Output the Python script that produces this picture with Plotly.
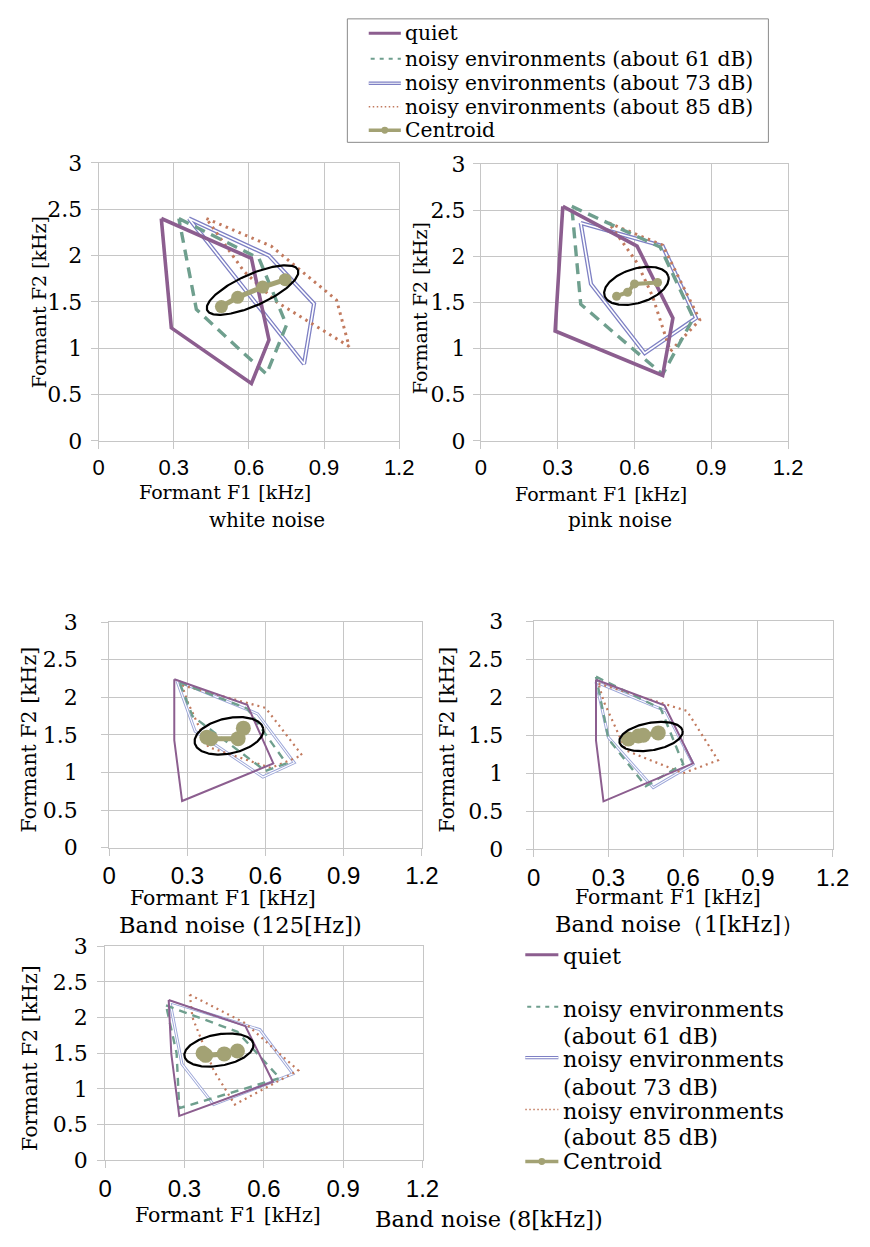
import numpy as np
import plotly.graph_objects as go

W, H = 870, 1247

# ---------------- data (kHz) ----------------
x_ticks = [0, 0.3, 0.6, 0.9, 1.2]
x_tick_text = ["0", "0.3", "0.6", "0.9", "1.2"]
y_ticks = [0, 0.5, 1, 1.5, 2, 2.5, 3]
y_tick_text = ["0", "0.5", "1", "1.5", "2", "2.5", "3"]

series_names = ["quiet", "noisy environments (about 61 dB)", "noisy environments (about 73 dB)",
                "noisy environments (about 85 dB)", "Centroid"]
panel_titles = ["white noise", "pink noise", "Band noise (125[Hz])", "Band noise（1[kHz]）", "Band noise (8[kHz])"]

# white noise
white_quiet_f1 = [0.25, 0.61, 0.68, 0.61, 0.29, 0.25]
white_quiet_f2 = [2.40, 1.97, 1.09, 0.62, 1.22, 2.40]
white_61_f1 = [0.32, 0.64, 0.75, 0.67, 0.39, 0.32]
white_61_f2 = [2.40, 1.97, 1.25, 0.72, 1.42, 2.40]
white_73_f1 = [0.36, 0.68, 0.86, 0.82, 0.36]
white_73_f2 = [2.40, 2.00, 1.48, 0.83, 2.40]
white_85_f1 = [0.43, 0.69, 0.95, 1.00, 0.71, 0.58, 0.43]
white_85_f2 = [2.40, 2.10, 1.52, 1.02, 1.50, 1.83, 2.40]
white_cent_f1 = [0.49, 0.555, 0.655, 0.745]
white_cent_f2 = [1.45, 1.55, 1.66, 1.74]

# pink noise
pink_quiet_f1 = [0.32, 0.61, 0.75, 0.71, 0.29, 0.32]
pink_quiet_f2 = [2.54, 2.11, 1.33, 0.71, 1.19, 2.54]
pink_61_f1 = [0.355, 0.70, 0.83, 0.71, 0.39, 0.355]
pink_61_f2 = [2.54, 2.10, 1.33, 0.72, 1.48, 2.54]
pink_73_f1 = [0.39, 0.71, 0.84, 0.64, 0.43, 0.39]
pink_73_f2 = [2.36, 2.11, 1.33, 0.95, 1.70, 2.36]
pink_85_f1 = [0.50, 0.71, 0.855, 0.74, 0.67, 0.61, 0.50]
pink_85_f2 = [2.36, 2.12, 1.31, 0.97, 1.57, 1.93, 2.36]
pink_cent_f1 = [0.53, 0.573, 0.60, 0.69]
pink_cent_f2 = [1.567, 1.61, 1.70, 1.716]

# band noise 125 Hz
b125_quiet_f1 = [0.25, 0.53, 0.63, 0.28, 0.25, 0.25]
b125_quiet_f2 = [2.24, 1.90, 1.12, 0.62, 1.43, 2.24]
b125_61_f1 = [0.27, 0.53, 0.68, 0.60, 0.32, 0.27]
b125_61_f2 = [2.20, 1.85, 1.12, 1.02, 1.75, 2.20]
b125_73_f1 = [0.26, 0.57, 0.71, 0.59, 0.33, 0.26]
b125_73_f2 = [2.22, 1.78, 1.13, 0.94, 1.55, 2.22]
b125_85_f1 = [0.28, 0.60, 0.74, 0.62, 0.38, 0.30, 0.28]
b125_85_f2 = [2.16, 1.86, 1.23, 1.06, 1.34, 1.95, 2.16]
b125_cent_f1 = [0.375, 0.39, 0.495, 0.515]
b125_cent_f2 = [1.47, 1.45, 1.45, 1.59]

# band noise 1 kHz
b1k_quiet_f1 = [0.25, 0.525, 0.64, 0.28, 0.25, 0.25]
b1k_quiet_f2 = [2.23, 1.895, 1.13, 0.63, 1.43, 2.23]
b1k_61_f1 = [0.25, 0.51, 0.60, 0.45, 0.30, 0.25]
b1k_61_f2 = [2.27, 1.85, 1.12, 0.83, 1.45, 2.27]
b1k_73_f1 = [0.25, 0.53, 0.64, 0.48, 0.30, 0.25]
b1k_73_f2 = [2.20, 1.82, 1.12, 0.81, 1.47, 2.20]
b1k_85_f1 = [0.26, 0.615, 0.74, 0.60, 0.37, 0.28, 0.26]
b1k_85_f2 = [2.18, 1.82, 1.17, 1.00, 1.30, 1.95, 2.18]
b1k_cent_f1 = [0.38, 0.42, 0.44, 0.50]
b1k_cent_f2 = [1.45, 1.49, 1.50, 1.53]

# band noise 8 kHz
b8k_quiet_f1 = [0.24, 0.53, 0.634, 0.28, 0.25, 0.24]
b8k_quiet_f2 = [2.245, 1.88, 1.10, 0.62, 1.49, 2.245]
b8k_61_f1 = [0.23, 0.50, 0.66, 0.28, 0.27, 0.23]
b8k_61_f2 = [2.17, 1.80, 1.15, 0.73, 1.50, 2.17]
b8k_73_f1 = [0.245, 0.585, 0.71, 0.41, 0.29, 0.245]
b8k_73_f2 = [2.22, 1.83, 1.21, 0.78, 1.35, 2.22]
b8k_85_f1 = [0.32, 0.53, 0.73, 0.49, 0.41, 0.33, 0.32]
b8k_85_f2 = [2.32, 1.92, 1.26, 0.78, 1.26, 2.00, 2.32]
b8k_cent_f1 = [0.37, 0.38, 0.45, 0.50]
b8k_cent_f2 = [1.50, 1.47, 1.49, 1.53]

# ---------------- styles ----------------
C_QUIET = "#8C5E8F"
C_61 = "#6F9F8E"
C_73 = "#7E80C4"
C_73_BAND = "#9CA6D8"
C_85 = "#C27A5E"
C_CENT = "#A3A274"
GRID = "#C6C6C6"
SERIF = "DejaVu Serif, Liberation Serif, serif"
SANS = "Liberation Sans, Arial, sans-serif"


def px2x(px):
    return px / W


def py2y(py):
    return 1 - py / H


areas = [
    (94.3, 403.3, 154.0, 437.7),
    (487.3, 803.3, 155.0, 437.7),
    (105.0, 426.7, 622.7, 852.7),
    (541.7, 849.0, 621.7, 854.3),
    (101.0, 427.3, 953.3, 1171.7),
]
y_standoff = [4, 3, 19, 18, 5]

panels = [
    dict(data=(white_quiet_f1, white_quiet_f2, white_61_f1, white_61_f2, white_73_f1, white_73_f2,
               white_85_f1, white_85_f2, white_cent_f1, white_cent_f2),
         ell=(0.6145, 1.628, 51, 16, 23.8), thick=True),
    dict(data=(pink_quiet_f1, pink_quiet_f2, pink_61_f1, pink_61_f2, pink_73_f1, pink_73_f2,
               pink_85_f1, pink_85_f2, pink_cent_f1, pink_cent_f2),
         ell=(0.6075, 1.679, 34.3, 17.5, 17), thick=True),
    dict(data=(b125_quiet_f1, b125_quiet_f2, b125_61_f1, b125_61_f2, b125_73_f1, b125_73_f2,
               b125_85_f1, b125_85_f2, b125_cent_f1, b125_cent_f2),
         ell=(0.46, 1.488, 36, 18, 12), thick=False),
    dict(data=(b1k_quiet_f1, b1k_quiet_f2, b1k_61_f1, b1k_61_f2, b1k_73_f1, b1k_73_f2,
               b1k_85_f1, b1k_85_f2, b1k_cent_f1, b1k_cent_f2),
         ell=(0.471, 1.483, 33, 14, 10), thick=False),
    dict(data=(b8k_quiet_f1, b8k_quiet_f2, b8k_61_f1, b8k_61_f2, b8k_73_f1, b8k_73_f2,
               b8k_85_f1, b8k_85_f2, b8k_cent_f1, b8k_cent_f2),
         ell=(0.43, 1.544, 36, 16, 10), thick=False),
]

fig = go.Figure()
layout = dict(
    width=W, height=H, margin=dict(l=0, r=0, t=0, b=0, pad=0),
    paper_bgcolor="white", plot_bgcolor="white", showlegend=False,
)

for i, (p, ar) in enumerate(zip(panels, areas), start=1):
    xa = "x" if i == 1 else f"x{i}"
    ya = "y" if i == 1 else f"y{i}"
    l, r, t, b = ar
    thick = p["thick"]
    xfs = 22 if thick else 24
    layout["xaxis" if i == 1 else f"xaxis{i}"] = dict(
        domain=[px2x(l), px2x(r)], anchor=ya, range=[0, 1.2], fixedrange=True,
        tickvals=x_ticks, ticktext=x_tick_text, tickfont=dict(family=SANS, size=xfs, color="black"),
        showgrid=True, gridcolor=GRID, gridwidth=1, zeroline=False,
        showline=True, linecolor=GRID, linewidth=1, mirror=True,
        ticks="outside", ticklen=7, tickcolor=GRID, tickwidth=1,
    )
    layout["yaxis" if i == 1 else f"yaxis{i}"] = dict(
        domain=[py2y(b), py2y(t)], anchor=xa, range=[0, 3], fixedrange=True,
        tickvals=y_ticks, ticktext=y_tick_text, tickfont=dict(family=SERIF, size=22, color="black"),
        showgrid=True, gridcolor=GRID, gridwidth=1, zeroline=False,
        showline=True, linecolor=GRID, linewidth=1, mirror=True,
        ticks="outside", ticklen=7, tickcolor=GRID, tickwidth=1,
        ticklabelstandoff=y_standoff[i - 1],
    )
    q1, q2, d1, d2, b1, b2, o1, o2, c1, c2 = p["data"]
    wq = 3.6 if thick else 2.0
    wd = 3.4 if thick else 2.4
    wb = 4.2 if thick else 3.0
    wo = 3.0 if thick else 2.2
    dash_d = "11px,7px" if thick else "8px,6px"
    dash_o = "2.5px,4.5px" if thick else "2px,4px"
    c73 = C_73 if thick else C_73_BAND
    common = dict(xaxis=xa, yaxis=ya, mode="lines", hoverinfo="skip", showlegend=False)
    fig.add_trace(go.Scatter(x=b1, y=b2, line=dict(color=c73, width=wb), name=series_names[2], **common))
    fig.add_trace(go.Scatter(x=b1, y=b2, line=dict(color="white", width=wb * 0.38), name=series_names[2], **common))
    fig.add_trace(go.Scatter(x=o1, y=o2, line=dict(color=C_85, width=wo, dash=dash_o), name=series_names[3], **common))
    fig.add_trace(go.Scatter(x=d1, y=d2, line=dict(color=C_61, width=wd, dash=dash_d), name=series_names[1], **common))
    fig.add_trace(go.Scatter(x=q1, y=q2, line=dict(color=C_QUIET, width=wq), name=series_names[0], **common))
    msz = 13 if i == 1 else (9 if i == 2 else 15)
    fig.add_trace(go.Scatter(x=c1, y=c2, xaxis=xa, yaxis=ya, mode="lines+markers", hoverinfo="skip",
                             showlegend=False, name=series_names[4],
                             line=dict(color=C_CENT, width=5 if i != 2 else 4),
                             marker=dict(color=C_CENT, size=msz)))
    # ellipse annotation, drawn in pixel space and mapped to the panel's data units
    cx, cy, a, bb, ang = p["ell"]
    sx = (r - l) / 1.2
    sy = (b - t) / 3.0
    tt = np.linspace(0, 2 * np.pi, 181)
    th = np.deg2rad(ang)
    u = a * np.cos(tt)
    v = bb * np.sin(tt)
    ex = cx + (u * np.cos(th) - v * np.sin(th)) / sx
    ey = cy + (u * np.sin(th) + v * np.cos(th)) / sy
    fig.add_trace(go.Scatter(x=ex, y=ey, xaxis=xa, yaxis=ya, mode="lines", hoverinfo="skip",
                             showlegend=False, line=dict(color="black", width=2.2)))

annotations = []
shapes = []


def text(s, x, y, size, xanchor="center", angle=0, family=SERIF):
    annotations.append(dict(text=s, x=px2x(x), y=py2y(y), xref="paper", yref="paper",
                            xanchor=xanchor, yanchor="middle", showarrow=False, textangle=angle,
                            font=dict(family=family, size=size, color="black")))


text("Formant F1 [kHz]", 224, 490, 19)
text(panel_titles[0], 267, 518, 20)
text("Formant F2 [kHz]", 33, 296, 19, angle=-90)
text("Formant F1 [kHz]", 611, 492, 19)
text(panel_titles[1], 630, 518, 20)
text("Formant F2 [kHz]", 425, 302, 19, angle=-90)
text("Formant F1 [kHz]", 222, 904, 20.5)
text(panel_titles[2], 240, 932, 22.5)
text("Formant F2 [kHz]", 23, 742, 20.5, angle=-90)
text("Formant F1 [kHz]", 680, 903, 20.5)
text(panel_titles[3], 692, 931, 22.5)
text("Formant F2 [kHz]", 453, 743, 20.5, angle=-90)
text("Formant F1 [kHz]", 227, 1228, 20.5)
text(panel_titles[4], 496, 1232, 22.5)
text("Formant F2 [kHz]", 23, 1067, 20.5, angle=-90)


def hline(x0, x1, y, color, width, dash=None):
    ln = dict(color=color, width=width)
    if dash:
        ln["dash"] = dash
    shapes.append(dict(type="line", xref="paper", yref="paper", x0=px2x(x0), x1=px2x(x1),
                       y0=py2y(y), y1=py2y(y), line=ln))


def sample(kind, x0, x1, y):
    if kind == 0:
        hline(x0, x1, y, C_QUIET, 3)
    elif kind == 1:
        hline(x0 + 2, x1, y, C_61, 2, "4px,5px")
    elif kind == 2:
        hline(x0, x1, y, C_73, 3.4)
        hline(x0, x1, y, "white", 1.2)
    elif kind == 3:
        hline(x0, x1, y, C_85, 1.6, "1.5px,2.5px")
    else:
        hline(x0, x1, y, C_CENT, 3.5)
        xm = (x0 + x1) / 2
        shapes.append(dict(type="circle", xref="paper", yref="paper", x0=px2x(xm - 3.5), x1=px2x(xm + 3.5),
                           y0=py2y(y + 3.5), y1=py2y(y - 3.5), fillcolor=C_CENT, line=dict(width=0)))


# top legend
shapes.append(dict(type="rect", xref="paper", yref="paper", x0=px2x(350), x1=px2x(783),
                   y0=py2y(133), y1=py2y(7), line=dict(color="#8A8A8A", width=1), fillcolor="white",
                   layer="below"))
top_rows = [21.7, 47.7, 72.7, 96.7, 120.7]
for k, yy in enumerate(top_rows):
    sample(k, 372, 405, yy)
    text(series_names[k], 407, yy, 20.3, xanchor="left")

# bottom legend
bottom_samples = [962, 1015, 1067, 1120, 1173]
bottom_lines = [
    ("quiet", 963),
    ("noisy environments", 1017), ("(about 61 dB)", 1045),
    ("noisy environments", 1068), ("(about 73 dB)", 1097),
    ("noisy environments", 1121), ("(about 85 dB)", 1148),
    ("Centroid", 1173),
]
for k, yy in enumerate(bottom_samples):
    sample(k, 533, 567, yy)
for s, yy in bottom_lines:
    text(s, 570, yy, 22.3, xanchor="left")

layout["annotations"] = annotations
layout["shapes"] = shapes
fig.update_layout(**layout)
fig.write_html("out.html")
